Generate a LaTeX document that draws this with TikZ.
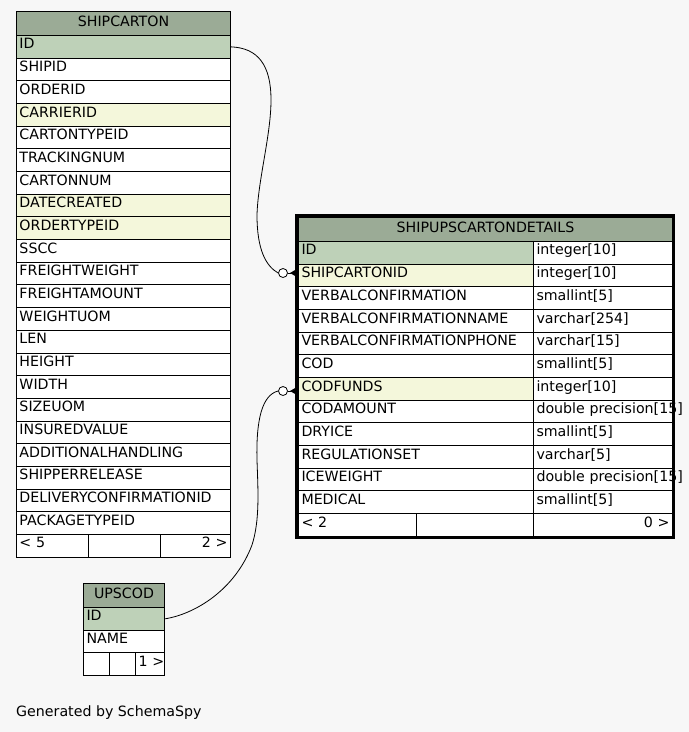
\documentclass[tikz,border=0pt]{standalone}
\usepackage{fontspec}
\setmainfont{DejaVu Sans}
\usetikzlibrary{arrows.meta}
\definecolor{bgc}{HTML}{F7F7F7}
\definecolor{headc}{HTML}{9BAB96}
\definecolor{pkc}{HTML}{BED1B8}
\definecolor{fkc}{HTML}{F4F7DB}
\newcommand{\cellfont}{\fontsize{14.2}{16}\selectfont}
\begin{document}
\begin{tikzpicture}[x=1pt,y=-1pt,
  cellbox/.style={draw=black,line width=1pt,anchor=north west,inner xsep=3pt,inner ysep=0pt,
    minimum height=22.68pt,text height=8pt,text depth=3.7pt,font=\cellfont,align=left},
  rcell/.style={cellbox,align=right},
  headbox/.style={draw=black,line width=1pt,fill=headc,anchor=north west,inner sep=0pt,
    minimum height=24pt,text height=8pt,text depth=3pt,font=\cellfont},
  link/.style={line width=0.8pt,draw=black},
  endcirc/.style={circle,draw=black,line width=0.8pt,fill=white,minimum size=9pt,inner sep=0pt}
]
\fill[bgc] (0,0) rectangle (689,732);
\useasboundingbox (0,0) rectangle (689,732);

% ---------- SHIPCARTON ----------
\node[headbox,minimum width=214pt] (sc-head) at (16,11) {SHIPCARTON};
\foreach [count=\i from 0] \nm/\cc in {ID/pkc,SHIPID/white,ORDERID/white,CARRIERID/fkc,
  CARTONTYPEID/white,TRACKINGNUM/white,CARTONNUM/white,DATECREATED/fkc,ORDERTYPEID/fkc,
  SSCC/white,FREIGHTWEIGHT/white,FREIGHTAMOUNT/white,WEIGHTUOM/white,LEN/white,HEIGHT/white,
  WIDTH/white,SIZEUOM/white,INSUREDVALUE/white,ADDITIONALHANDLING/white,SHIPPERRELEASE/white,
  DELIVERYCONFIRMATIONID/white,PACKAGETYPEID/white}{
  \node[cellbox,fill=\cc,text width=208pt] (sc-\i) at (16,{35+\i*22.68}) {\nm};
}
\node[cellbox,fill=white,text width=66pt] (sc-f1) at (16,533.96) {\mbox{< 5}};
\node[cellbox,fill=white,text width=66pt] (sc-f2) at (88,533.96) {};
\node[rcell,fill=white,text width=64pt] (sc-f3) at (160,533.96) {\mbox{2 >}};

% ---------- UPSCOD ----------
\node[headbox,minimum width=81pt] (uc-head) at (83,583) {UPSCOD};
\node[cellbox,fill=pkc,text width=75pt] (uc-0) at (83,607) {ID};
\node[cellbox,fill=white,text width=75pt] (uc-1) at (83,629.68) {NAME};
\node[cellbox,fill=white,text width=20pt] (uc-f1) at (83,652.36) {};
\node[cellbox,fill=white,text width=20pt] (uc-f2) at (109,652.36) {};
\node[rcell,fill=white,text width=23pt] (uc-f3) at (135,652.36) {\mbox{1 >}};

% ---------- SHIPUPSCARTONDETAILS ----------
\node[headbox,minimum width=374pt] (sd-head) at (298,217) {SHIPUPSCARTONDETAILS};
\foreach [count=\i from 0] \nm/\cc/\ty in {ID/pkc/integer[10],SHIPCARTONID/fkc/integer[10],
  VERBALCONFIRMATION/white/smallint[5],VERBALCONFIRMATIONNAME/white/varchar[254],
  VERBALCONFIRMATIONPHONE/white/varchar[15],COD/white/smallint[5],CODFUNDS/fkc/integer[10],
  CODAMOUNT/white/double precision[15],DRYICE/white/smallint[5],REGULATIONSET/white/varchar[5],
  ICEWEIGHT/white/double precision[15],MEDICAL/white/smallint[5]}{
  \node[cellbox,fill=\cc,text width=229pt] (sd-\i) at (298,{241+\i*22.68}) {\nm};
  \node[cellbox,fill=white,text width=133pt] (sdt-\i) at (533,{241+\i*22.68}) {\mbox{\ty}};
}
\node[cellbox,fill=white,text width=112pt] (sd-f1) at (298,513.16) {\mbox{< 2}};
\node[cellbox,fill=white,text width=111pt] (sd-f2) at (416,513.16) {};
\node[rcell,fill=white,text width=133pt] (sd-f3) at (533,513.16) {\mbox{0 >}};
\draw[line width=3pt] (296.5,215.5) rectangle (673.5,537.5);

% ---------- connectors ----------
\node[endcirc] (c1) at (283,273) {};
\draw[link] (sc-0.east) .. controls (258,48) and (271,65) .. (271,100)
  .. controls (271,135) and (258,180) .. (257,215)
  .. controls (257,250) and (266,266) .. (c1.west);
\draw[link,-{Triangle[reversed,length=8pt,width=9pt]}] (c1.east) -- (c1.east -| sd-1.west);

\node[endcirc] (c2) at (283,391) {};
\draw[link] (uc-0.east) .. controls (195,614) and (235,590) .. (252,545)
  .. controls (260,520) and (258,490) .. (257,460)
  .. controls (256,420) and (262,395) .. (c2.west);
\draw[link,-{Triangle[reversed,length=8pt,width=9pt]}] (c2.east) -- (c2.east -| sd-6.west);

\node[font=\cellfont,anchor=base west,inner sep=0pt] (gen) at (16,716) {Generated by SchemaSpy};
\end{tikzpicture}
\end{document}
